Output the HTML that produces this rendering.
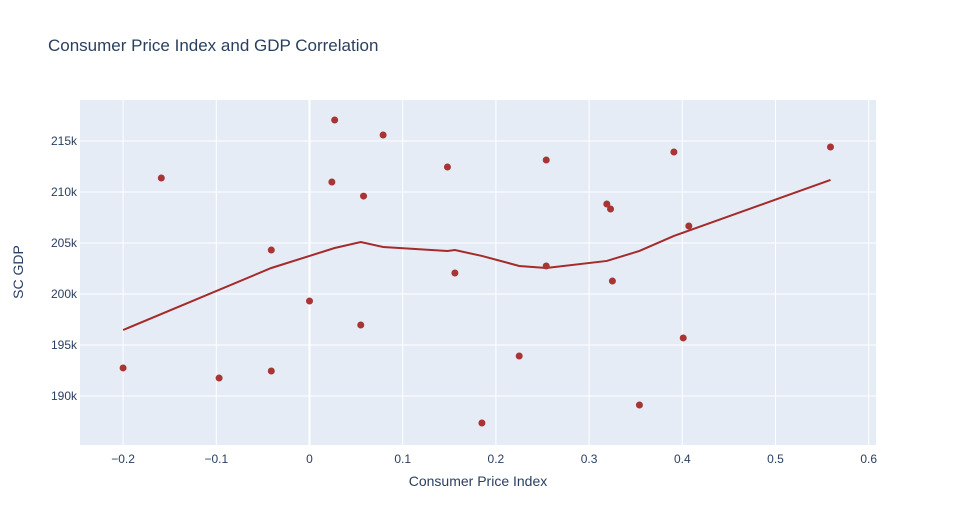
<!DOCTYPE html>
<html><head><meta charset="utf-8"><style>
body{margin:0;background:#fff;font-family:"Liberation Sans",sans-serif}
text{font-family:"Liberation Sans",sans-serif}
</style></head><body>
<svg id="chart" width="954" height="525">
<text x="48" y="51" font-size="17" fill="#2a3f5f">Consumer Price Index and GDP Correlation</text>
<rect x="80" y="100" width="796" height="345" fill="#e5ecf6"/>
<g id="grid"></g><g id="marks"></g><g id="ticks"></g>
<text x="478" y="486" font-size="14" fill="#2a3f5f" text-anchor="middle">Consumer Price Index</text>
<text x="23" y="272" font-size="14" fill="#2a3f5f" text-anchor="middle" transform="rotate(-90 23 272)">SC GDP</text>
</svg>
<script>
const cpiValues=[-0.2,-0.159,-0.097,-0.041,-0.041,0,0.024,0.027,0.055,0.058,0.079,0.148,0.156,0.185,0.225,0.254,0.254,0.319,0.323,0.325,0.354,0.391,0.401,0.407,0.559];
const gdpValues=[192.75,211.37,191.76,204.31,192.45,199.31,210.98,217.06,196.96,209.6,215.59,212.45,202.06,187.35,193.92,213.14,202.75,208.82,208.33,201.27,189.12,213.92,195.69,206.67,214.41];
const trendX=[-0.2,-0.041,0,0.027,0.055,0.079,0.148,0.156,0.185,0.225,0.254,0.319,0.354,0.391,0.559];
const trendY=[196.47,202.55,203.73,204.51,205.1,204.61,204.22,204.31,203.73,202.75,202.55,203.24,204.22,205.69,211.18];
const xTicks=[-0.2,-0.1,0,0.1,0.2,0.3,0.4,0.5,0.6];
const xTickLabels=["−0.2","−0.1","0","0.1","0.2","0.3","0.4","0.5","0.6"];
const yTicks=[190,195,200,205,210,215];
const yTickLabels=["190k","195k","200k","205k","210k","215k"];
const NS="http://www.w3.org/2000/svg";
const xs=v=>309.5+v*932;
const ys=v=>141+(215-v)*10.2;
function mk(t,a,p){const e=document.createElementNS(NS,t);for(const k in a)e.setAttribute(k,a[k]);p.appendChild(e);return e;}
const grid=document.getElementById('grid'),marks=document.getElementById('marks'),ticks=document.getElementById('ticks');
xTicks.forEach((v,i)=>{
 const l=mk('line',{x1:xs(v),x2:xs(v),y1:100,y2:445,stroke:'#fff','stroke-width':v===0?2:1},grid);
 
 
 const t=mk('text',{x:xs(v),y:463,'font-size':12,fill:'#2a3f5f','text-anchor':'middle'},ticks);
 t.textContent=xTickLabels[i];
 
 
});
yTicks.forEach((v,i)=>{
 const l=mk('line',{x1:80,x2:876,y1:ys(v),y2:ys(v),stroke:'#fff','stroke-width':1},grid);
 
 
 const t=mk('text',{x:77,y:ys(v)+4,'font-size':12,fill:'#2a3f5f','text-anchor':'end'},ticks);
 t.textContent=yTickLabels[i];
 
 
});
const pl=mk('polyline',{points:trendX.map((x,i)=>xs(x)+','+ys(trendY[i])).join(' '),fill:'none',stroke:'#a52a2a','stroke-width':2},marks);


cpiValues.forEach((x,i)=>{
 const c=mk('circle',{cx:xs(x),cy:ys(gdpValues[i]),r:3.5,fill:'#a83434'},marks);
 
 
});
</script>
</body></html>
